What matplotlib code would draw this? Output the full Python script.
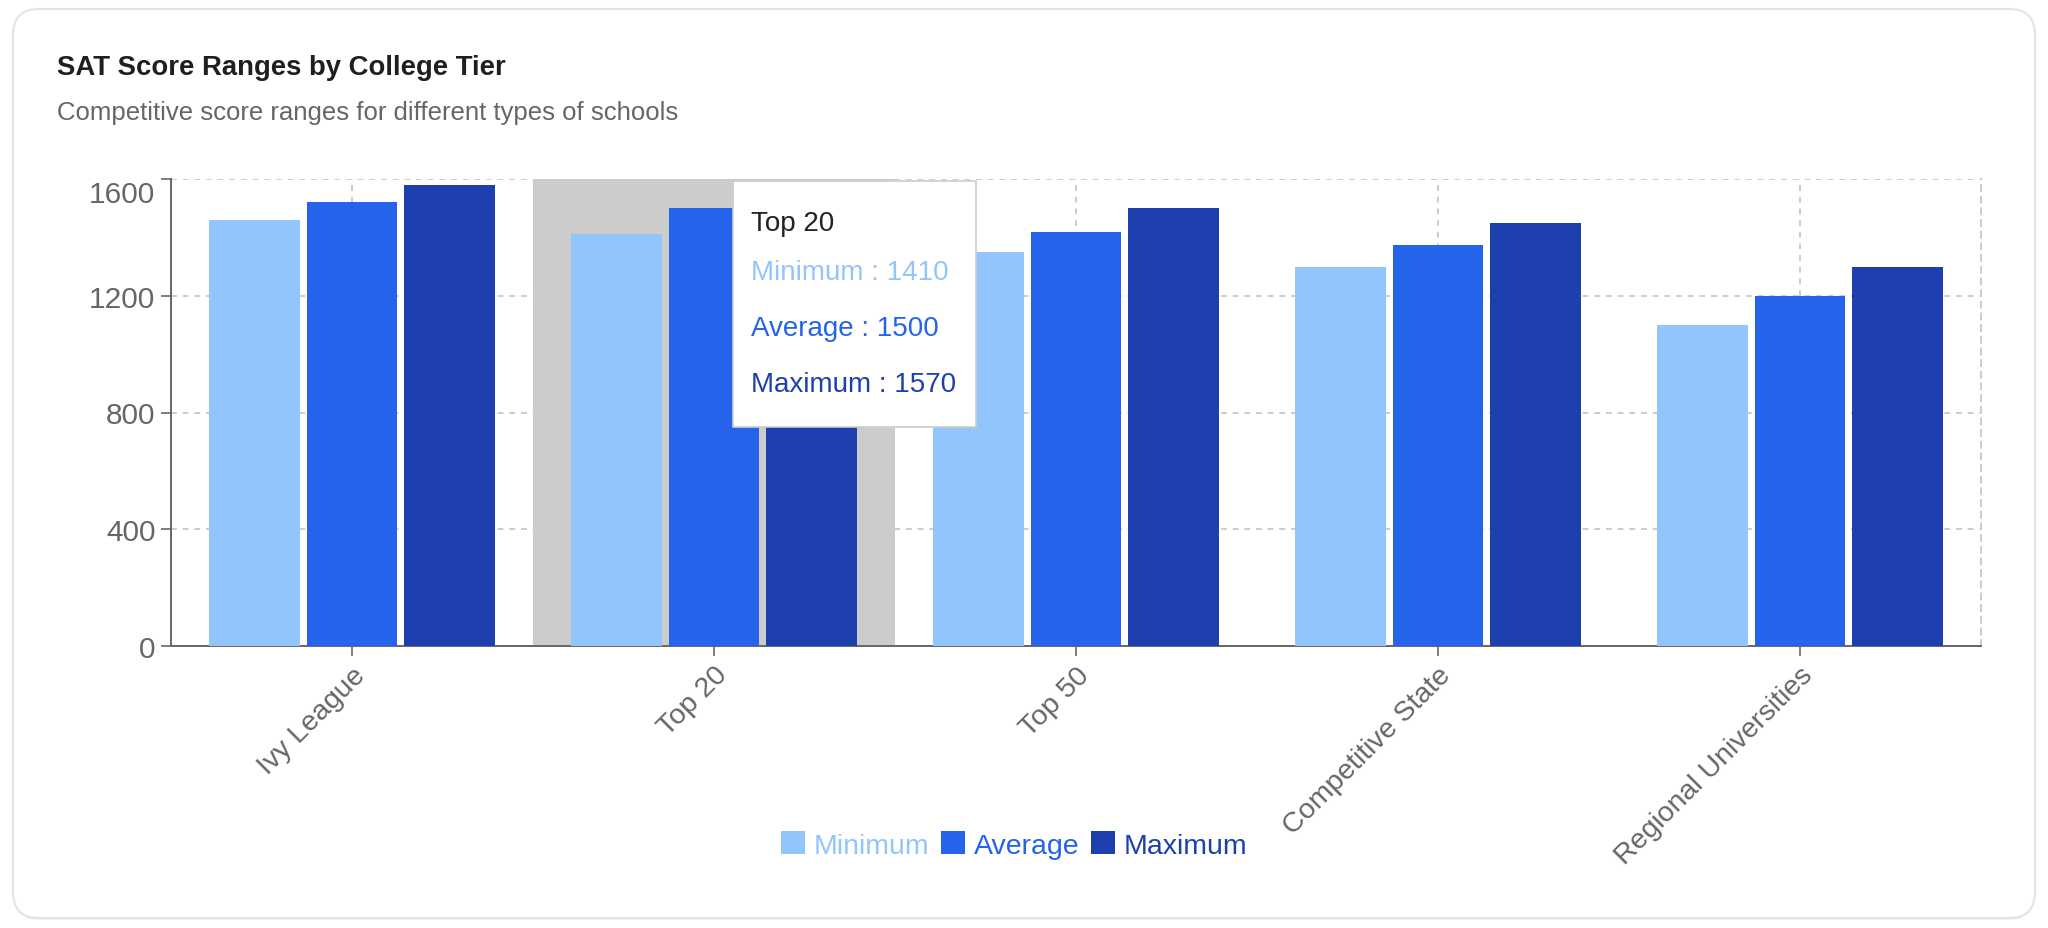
import matplotlib
matplotlib.use("Agg")
import matplotlib.pyplot as plt
from matplotlib.patches import FancyBboxPatch, Rectangle, Patch
from matplotlib.transforms import ScaledTranslation
import numpy as np

plt.rcParams["font.family"] = ["Liberation Sans", "DejaVu Sans"]

# data
categories = ["Ivy League", "Top 20", "Top 50", "Competitive State", "Regional Universities"]
series_names = ["Minimum", "Average", "Maximum"]
minimum = [1460, 1410, 1350, 1300, 1100]
average = [1520, 1500, 1420, 1375, 1200]
maximum = [1580, 1570, 1500, 1450, 1300]
y_ticks = [0, 400, 800, 1200, 1600]
hovered = "Top 20"

LIGHT = "#93c5fd"
MID = "#2563eb"
DARK = "#1e40af"
AXIS = "#666666"
GRID = "#cccccc"
colors = [LIGHT, MID, DARK]

W, H = 2048, 929
fig = plt.figure(figsize=(W / 100, H / 100), dpi=100)

# card background (pixel coords)
bg = fig.add_axes([0, 0, 1, 1], zorder=0)
bg.set_xlim(0, W)
bg.set_ylim(H, 0)
bg.axis("off")
bg.add_patch(FancyBboxPatch((13, 12), W - 26, H - 20, boxstyle="round,pad=0,rounding_size=26",
                            facecolor="#f0f0f0", edgecolor="none"))
bg.add_patch(FancyBboxPatch((13, 10), W - 26, H - 20, boxstyle="round,pad=0,rounding_size=26",
                            facecolor="white", edgecolor="#e3e3e3", lw=1.5))

# main chart
ax = fig.add_axes([171 / W, 1 - 647 / H, (1981 - 171) / W, (647 - 180) / H], zorder=1)
ax.set_facecolor("none")
x = np.arange(len(categories))
pitch, width = 0.27, 0.25

h = categories.index(hovered)
ax.bar(h, y_ticks[-1], width=1.0, color=GRID, zorder=2)

for i, (vals, c) in enumerate(zip([minimum, average, maximum], colors)):
    ax.bar(x + (i - 1) * pitch, vals, width=width, color=c, zorder=3)

ax.set_xlim(-0.5, len(categories) - 0.5)
ax.set_ylim(y_ticks[0], y_ticks[-1])
ax.set_yticks(y_ticks)
ax.set_xticks(x, categories, rotation=45, ha="right", va="top", rotation_mode="anchor")
ax.set_axisbelow(True)
ax.grid(color=GRID, linestyle=(0, (3, 3)), lw=1.4)

for s in ["left", "bottom"]:
    ax.spines[s].set_color(AXIS)
    ax.spines[s].set_linewidth(1.4)
ax.spines["top"].set_visible(False)
ax.spines["right"].set_color(GRID)
ax.spines["right"].set_linestyle((0, (3, 3)))
ax.spines["right"].set_linewidth(1.4)
ax.tick_params(axis="both", colors=AXIS, length=7.2, width=1.2, pad=4)
ax.tick_params(axis="y", labelsize=21.5)
ax.tick_params(axis="x", labelsize=20.5)

# top label sits just inside the plot, like the original
top_lbl = ax.get_yticklabels()[-1]
top_lbl.set_transform(top_lbl.get_transform() + ScaledTranslation(0, -12 / 100, fig.dpi_scale_trans))

# overlay: title, subtitle, tooltip
ov = fig.add_axes([0, 0, 1, 1], zorder=5)
ov.set_xlim(0, W)
ov.set_ylim(H, 0)
ov.axis("off")
ov.text(57, 68, "SAT Score Ranges by College Tier", fontsize=19.8, fontweight="bold",
        color="#1f1f1f", va="center")
ov.text(57, 113, "Competitive score ranges for different types of schools", fontsize=18.5,
        color=AXIS, va="center")

ov.add_patch(Rectangle((733, 182), 243, 246, facecolor="white", edgecolor=GRID, lw=1.2))
ov.text(751, 224, hovered, fontsize=20, color="#222222", va="center")
for name, vals, c, ty in zip(series_names, [minimum, average, maximum], colors, [273, 329, 385]):
    ov.text(751, ty, f"{name} : {vals[h]}", fontsize=20, color=c, va="center")

handles = [Patch(facecolor=c) for c in colors]
fig.legend(handles, series_names, loc="center", bbox_to_anchor=(1014 / W, 1 - 846 / H), ncol=3,
           frameon=False, fontsize=20.5, labelcolor=colors, handlelength=0.85, handleheight=0.85,
           handletextpad=0.3, columnspacing=0.4, borderaxespad=0)

fig.savefig("out.png", dpi=100)
